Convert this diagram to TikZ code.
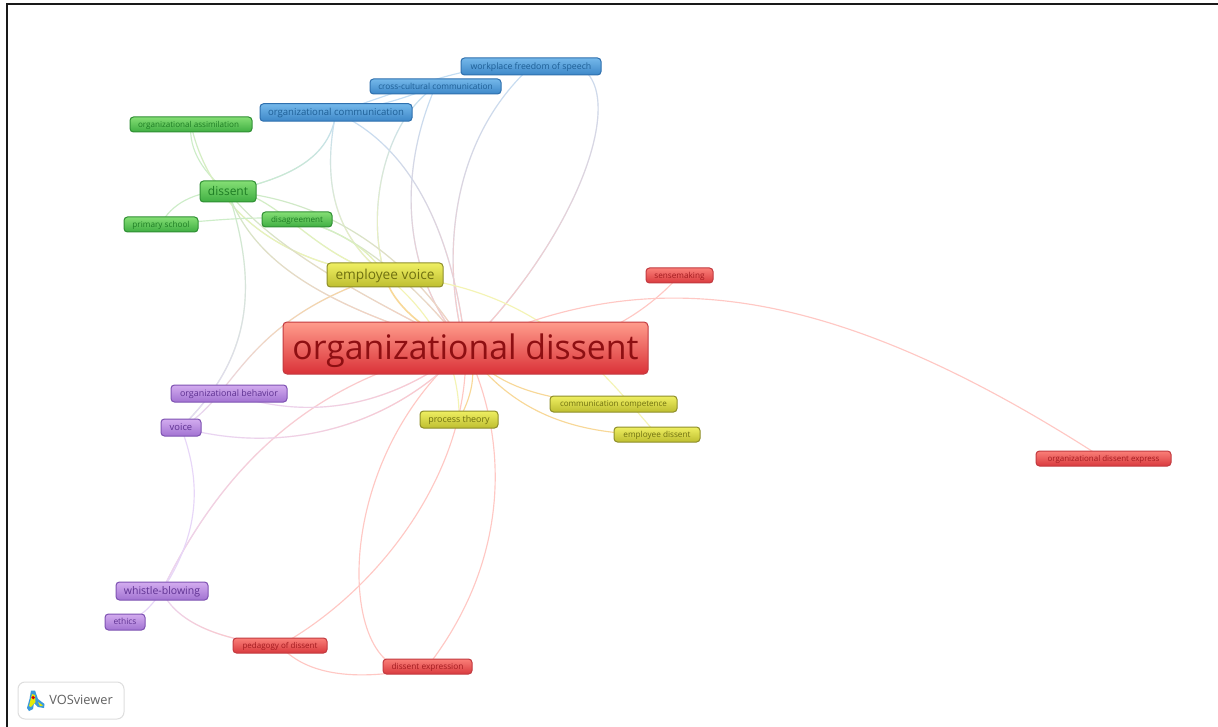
\documentclass[tikz,border=0pt]{standalone}
\usepackage{fontspec}
\setmainfont{Open Sans}
\usetikzlibrary{backgrounds,fadings}
\definecolor{erd}{HTML}{FFC8C4}
\definecolor{egr}{HTML}{CDEDC8}
\definecolor{ebl}{HTML}{C4DEF4}
\definecolor{eyl}{HTML}{F4F4B4}
\definecolor{epu}{HTML}{E7D6F8}
\definecolor{eor}{HTML}{F8D898}
\tikzset{
  x=1pt,y=-1pt,
  lk/.style={line width=1.15pt,line cap=round},
  kw/.style={draw,rounded corners=3.5pt,line width=1pt,inner sep=0pt,anchor=center},
  kwred/.style={kw,draw=bR,top color=tR,bottom color=lR,text=xR},
  kwgreen/.style={kw,draw=bG,top color=tG,bottom color=lG,text=xG},
  kwblue/.style={kw,draw=bB,top color=tB,bottom color=lB,text=xB},
  kwyellow/.style={kw,draw=bY,top color=tY,bottom color=lY,text=xY},
  kwpurple/.style={kw,draw=bP,top color=tP,bottom color=lP,text=xP},
}
\definecolor{bR}{HTML}{C23A40}\definecolor{tR}{HTML}{FA7F78}\definecolor{lR}{HTML}{D93A3E}\definecolor{xR}{HTML}{A31C20}
\definecolor{bG}{HTML}{2F8F33}\definecolor{tG}{HTML}{84DE74}\definecolor{lG}{HTML}{3FAE42}\definecolor{xG}{HTML}{1E7D24}
\definecolor{bB}{HTML}{2F70AE}\definecolor{tB}{HTML}{74B8EA}\definecolor{lB}{HTML}{3D87C8}\definecolor{xB}{HTML}{1E5F96}
\definecolor{bY}{HTML}{8E8E2A}\definecolor{tY}{HTML}{EFEF62}\definecolor{lY}{HTML}{BEBE30}\definecolor{xY}{HTML}{6F7010}
\definecolor{bP}{HTML}{7E52B2}\definecolor{tP}{HTML}{D3ACEF}\definecolor{lP}{HTML}{A273D2}\definecolor{xP}{HTML}{5F3292}
\definecolor{tM}{HTML}{FF9C8C}\definecolor{lM}{HTML}{DA3238}\definecolor{xM}{HTML}{8E0F12}
% node text with a fixed box, so that the baseline sits 0.33em under the node centre
\newcommand\kwt[1]{\raisebox{0pt}[.75em][.09em]{#1}}
% one-colour connector: a, b, control 1, control 2, colour
\newcommand\lnkone[5]{\draw[lk,#5] (#1.center) .. controls (#3) and (#4) .. (#2.center);}
% two-colour connector: a, b, control 1, control 2, colour at a, colour at b, fade side
\newcommand\lnktwo[7]{\draw[lk,#5] (#1.center) .. controls (#3) and (#4) .. (#2.center);
  \draw[lk,#6,path fading=#7] (#1.center) .. controls (#3) and (#4) .. (#2.center);}
\begin{document}
\begin{tikzpicture}
\useasboundingbox (0,0) rectangle (1218,727);
\draw[line width=2pt,color=black!90] (7,727) -- (7,4) -- (1218,4);

\node[kw,draw=bR,top color=tM,bottom color=lM,text=xM,minimum width=365pt,minimum height=52pt,rounded corners=4pt,font=\fontsize{33.8}{34}\selectfont] (main) at (465.5,348) {\kwt{organizational dissent}};
\node[kwblue,minimum width=140pt,minimum height=17pt,font=\fontsize{8.75}{9}\selectfont] (wfs) at (531,66.5) {\kwt{workplace freedom of speech}};
\node[kwblue,minimum width=131pt,minimum height=15pt,font=\fontsize{8.3}{9}\selectfont] (ccc) at (435.5,86.5) {\kwt{cross-cultural communication}};
\node[kwblue,minimum width=152pt,minimum height=17.5pt,font=\fontsize{9.6}{10}\selectfont] (oc) at (336,112.5) {\kwt{organizational communication}};
\node[kwgreen,minimum width=122pt,minimum height=15pt,font=\fontsize{8.1}{9}\selectfont] (oa) at (191,124.5) {\kwt{organizational assimilation\hspace{5pt}}};
\node[kwgreen,minimum width=56pt,minimum height=21pt,font=\fontsize{12}{12}\selectfont] (dis) at (228,191.5) {\kwt{dissent}};
\node[kwgreen,minimum width=74pt,minimum height=15pt,font=\fontsize{8.2}{9}\selectfont] (ps) at (161,224.5) {\kwt{primary school}};
\node[kwgreen,minimum width=70pt,minimum height=15pt,font=\fontsize{8.1}{9}\selectfont] (dag) at (297,219.5) {\kwt{disagreement}};
\node[kwyellow,minimum width=116pt,minimum height=24pt,font=\fontsize{13.7}{14}\selectfont] (ev) at (385,275) {\kwt{employee voice}};
\node[kwred,minimum width=67pt,minimum height=15pt,font=\fontsize{8.2}{9}\selectfont] (sm) at (679.5,275.5) {\kwt{sensemaking}};
\node[kwpurple,minimum width=116pt,minimum height=17pt,font=\fontsize{8.9}{9}\selectfont] (ob) at (229,393.5) {\kwt{organizational behavior}};
\node[kwpurple,minimum width=40pt,minimum height=17pt,font=\fontsize{9.4}{9}\selectfont] (vo) at (181,427.5) {\kwt{voice}};
\node[kwyellow,minimum width=78pt,minimum height=17pt,font=\fontsize{8.9}{9}\selectfont] (pt) at (459,419.5) {\kwt{process theory}};
\node[kwyellow,minimum width=127pt,minimum height=16pt,font=\fontsize{8.05}{9}\selectfont] (cc) at (613.5,404) {\kwt{communication competence}};
\node[kwyellow,minimum width=86pt,minimum height=15pt,font=\fontsize{8.2}{9}\selectfont] (ed) at (657,434.5) {\kwt{employee dissent}};
\node[kwred,minimum width=135pt,minimum height=15pt,font=\fontsize{7.95}{9}\selectfont] (ode) at (1103.5,458.5) {\kwt{organizational dissent express}};
\node[kwpurple,minimum width=92pt,minimum height=18pt,font=\fontsize{10.5}{11}\selectfont] (wb) at (162,591) {\kwt{whistle-blowing}};
\node[kwpurple,minimum width=40pt,minimum height=16pt,font=\fontsize{8.4}{9}\selectfont] (et) at (125,622) {\kwt{ethics}};
\node[kwred,minimum width=94pt,minimum height=15pt,font=\fontsize{8}{9}\selectfont] (pd) at (280,645.5) {\kwt{pedagogy of dissent}};
\node[kwred,minimum width=89pt,minimum height=15pt,font=\fontsize{8.3}{9}\selectfont] (de) at (427.5,666.5) {\kwt{dissent expression}};

\begin{scope}[on background layer]
\fill[white] (0,0) rectangle (1218,727);
\lnktwo{wfs}{main}{440,150}{445,280}{ebl}{erd}{north}
\lnktwo{wfs}{main}{650,30}{600,215}{ebl}{erd}{north}
\lnktwo{ccc}{main}{395,180}{405,280}{ebl}{erd}{north}
\lnktwo{ccc}{ev}{385,120}{365,210}{ebl}{eyl}{north}
\lnkone{wfs}{oc}{470,62}{420,85}{ebl}
\lnkone{ccc}{oc}{410,95}{390,105}{ebl}
\lnktwo{oc}{dis}{330,158}{290,178}{ebl}{egr}{north}
\lnktwo{oc}{ev}{320,190}{340,240}{ebl}{eyl}{north}
\lnktwo{oc}{main}{420,150}{455,250}{ebl}{erd}{north}
\lnkone{oa}{dis}{188,150}{205,175}{egr}
\lnktwo{oa}{ev}{205,190}{260,262}{egr}{eyl}{north}
\lnkone{ps}{dis}{170,205}{195,190}{egr}
\lnkone{ps}{dag}{200,222}{250,215}{egr}
\lnktwo{dag}{main}{360,232}{425,295}{egr}{erd}{north}
\lnktwo{dag}{ev}{340,230}{370,250}{egr}{eyl}{north}
\lnktwo{dis}{ev}{275,190}{310,255}{egr}{eyl}{north}
\lnktwo{dis}{main}{340,200}{420,270}{egr}{erd}{north}
\lnktwo{dis}{main}{255,270}{340,310}{egr}{erd}{north}
\lnktwo{dis}{main}{270,245}{350,290}{egr}{erd}{north}
\lnktwo{dis}{vo}{260,290}{250,360}{egr}{epu}{north}
\lnkone{ev}{main}{390,300}{420,330}{eor,line width=1.6pt}
\lnkone{ev}{pt}{440,320}{460,370}{eyl}
\lnkone{main}{pt}{480,370}{470,400}{eor}
\lnkone{ev}{ed}{540,285}{600,370}{eyl}
\lnkone{main}{cc}{490,380}{530,400}{eor}
\lnkone{main}{ed}{510,410}{570,435}{eor}
\lnkone{main}{de}{510,440}{510,560}{erd}
\lnkone{main}{pd}{470,470}{380,590}{erd}
\lnkone{main}{de}{320,470}{340,700}{erd}
\lnkone{pd}{de}{310,680}{370,680}{erd}
\lnktwo{wb}{pd}{175,620}{215,640}{epu}{erd}{north}
\lnktwo{main}{wb}{320,375}{225,460}{erd}{epu}{north}
\lnkone{vo}{wb}{205,490}{195,540}{epu}
\lnkone{wb}{et}{150,608}{140,618}{epu}
\lnktwo{ob}{main}{320,425}{400,400}{epu}{erd}{west}
\lnktwo{vo}{main}{280,455}{390,430}{epu}{erd}{west}
\lnktwo{vo}{ev}{235,400}{240,320}{epu}{eor}{south}
\lnkone{main}{ode}{640,265}{820,275}{erd}
\lnkone{main}{sm}{560,360}{630,330}{erd}
\end{scope}

\draw[draw=black!13,fill=white,rounded corners=7pt,line width=1pt] (18,682) rectangle (124,719);
\node[inner sep=0pt,text=black!62,font=\fontsize{12.8}{13}\selectfont] (vos) at (81,699.5) {VOSviewer};
\fill[cyan!70!blue!80] (31,690.5) -- (35,690.5) -- (38,699) -- (44.5,704) -- (44,708) -- (38,707) -- (34,703) -- (33,709) -- (29,711) -- (27,708) -- (29.5,699) -- cycle;
\fill[yellow!90!green] (32,694) -- (35,695) -- (35.5,702) -- (31,707) -- (29,706) -- cycle;
\fill[yellow!90!green] (38,702) -- (43,705.5) -- (40,706) -- cycle;
\fill[red!85!black] (33.2,697.5) circle[radius=1.8pt];
\end{tikzpicture}
\end{document}
